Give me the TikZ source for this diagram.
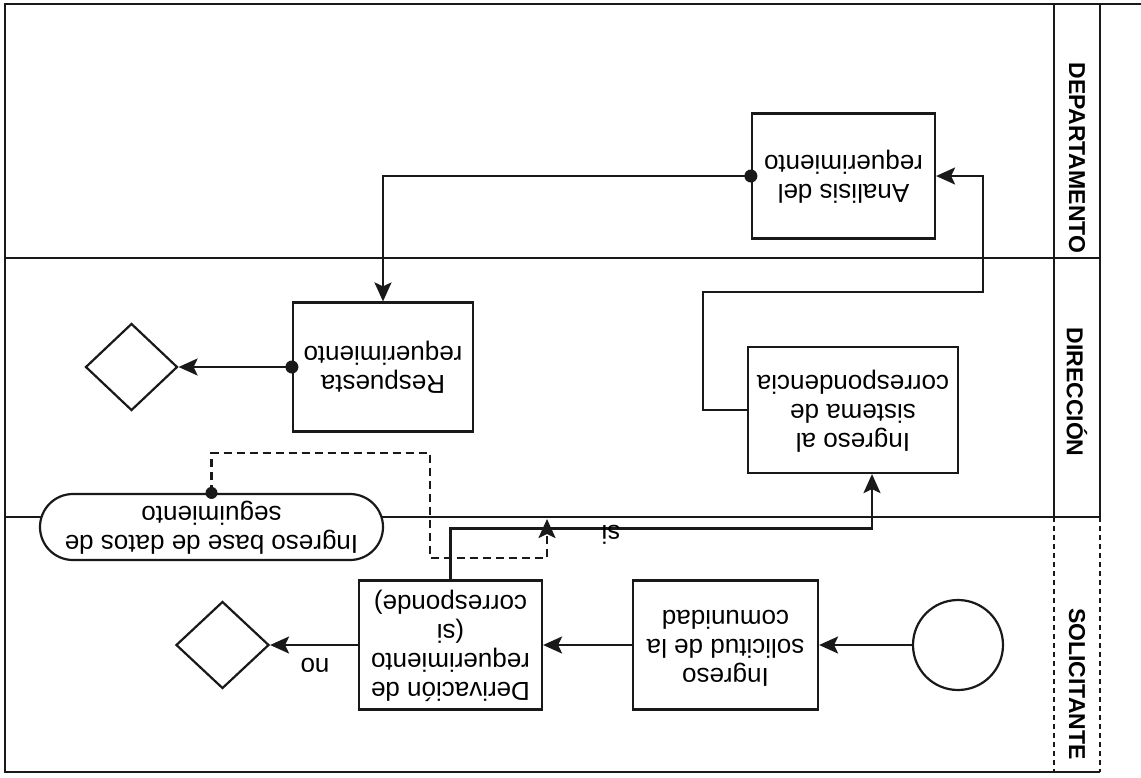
\documentclass[tikz,border=0pt]{standalone}
\usepackage{fontspec}
\setmainfont{Liberation Sans}
\usetikzlibrary{arrows.meta,shapes.geometric}
\newcommand{\flip}[1]{\rotatebox[origin=c]{180}{\begin{tabular}{@{}c@{}}#1\end{tabular}}}
\begin{document}
\begin{tikzpicture}[x=1pt,y=-1pt,
  ink/.style={draw=black!90},
  border/.style={ink,line width=2.3pt},
  proc/.style={ink,line width=2.2pt,fill=white,rectangle,inner sep=0pt,font=\fontsize{26}{29}\selectfont},
  gate/.style={ink,line width=2.2pt,fill=white,diamond,inner sep=0pt,minimum width=92pt,minimum height=87pt},
  flow/.style={ink,line width=2.3pt,-{Stealth[length=19pt,width=17pt,inset=4pt]}},
  lbl/.style={font=\fontsize{26}{29}\selectfont,inner sep=0pt},
  lane/.style={rotate=-90,font=\fontsize{23}{26}\selectfont\bfseries,inner sep=0pt},
  dot/.style={fill=black!90}]
\useasboundingbox (0,0) rectangle (1141,777);
\fill[white] (0,0) rectangle (1141,777);
% pool frame and lanes
\draw[border] (1141,4) -- (5,4) -- (5,772) -- (1100,772);
\draw[border] (1100,4) -- (1100,517);
\draw[border,dash pattern=on 5pt off 4pt] (1100,517) -- (1100,772);
\draw[border] (1054,4) -- (1054,517);
\draw[border,dash pattern=on 5pt off 4pt] (1054,517) -- (1054,772);
\draw[border] (5,258) -- (1100,258);
\draw[border] (5,517) -- (1100,517);
\node[lane] (l1) at (1077,158) {DEPARTAMENTO};
\node[lane] (l2) at (1077,392) {DIRECCIÓN};
\node[lane] (l3) at (1077,684) {SOLICITANTE};
% nodes
\node[proc,minimum width=183pt,minimum height=125pt] (ana) at (843.5,176) {\flip{Analisis del\\requerimiento}};
\node[proc,minimum width=210pt,minimum height=126pt] (sis) at (853,410) {\flip{Ingreso al\\sistema de\\correspondencia}};
\node[proc,minimum width=180pt,minimum height=129pt] (res) at (383,367) {\flip{Respuesta\\requerimiento}};
\node[gate] (end1) at (131.5,367) {};
\node[proc,minimum width=183pt,minimum height=129pt] (der) at (450.5,645) {\flip{Derivación de\\requerimiento\\(si\\corresponde)}};
\node[proc,minimum width=185pt,minimum height=129pt] (sol) at (725.5,645) {\flip{Ingreso\\solicitud de la\\comunidad}};
\node[ink,line width=2.2pt,circle,minimum size=90pt,inner sep=0pt] (start) at (958,645) {};
\node[gate,minimum width=93pt] (end2) at (222.5,645) {};
\node[proc,rounded corners=33pt,minimum width=343pt,minimum height=66pt] (db) at (211.5,527) {\flip{Ingreso base de datos de\\seguimiento}};
\coordinate (dbtip) at (547,519);
% connectors
\draw[flow] (start) -- (sol);
\draw[flow] (sol) -- (der);
\draw[flow] (der) -- (end2);
\node[lbl] (no) at (315,665) {\rotatebox{180}{no}};
\draw[flow] (der.north) -- ++(0,-51) -| ([xshift=19pt]sis.south);
\node[lbl] (si) at (611,535) {\rotatebox{180}{si}};
\draw[flow] (sis.west) -| (703,292) -| (983,176) -- (ana.east);
\draw[flow] (ana.west) -| (res.north);
\fill[dot] (ana.west) circle (6.5pt);
\draw[flow] (res.west) -- (end1.east);
\fill[dot] (res.west) circle (6.5pt);
\draw[flow,dash pattern=on 8pt off 5pt] (db.north) |- (430,453) |- (547,558) -- (dbtip);
\fill[dot] (db.north) circle (6pt);
\end{tikzpicture}
\end{document}
